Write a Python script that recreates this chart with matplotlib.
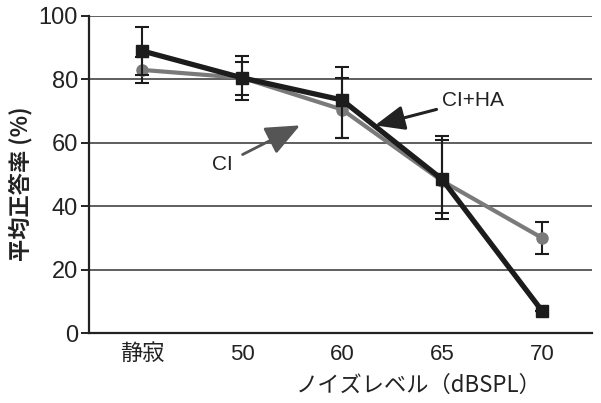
import matplotlib
matplotlib.use("Agg")
import matplotlib.pyplot as plt
from matplotlib import font_manager as fm
import numpy as np

# ---- data ----
categories = ["静寂", "50", "60", "65", "70"]
ci_mean = [83, 80.5, 70.5, 48, 30]
ci_err_low = [4, 5.5, 9, 10, 5]
ci_err_high = [4, 5, 10, 13, 5]
ciha_mean = [89, 80.5, 73.5, 48.5, 7]
ciha_err_low = [7.5, 7, 12, 12.5, 0]
ciha_err_high = [7.5, 7, 10.5, 13.5, 0]
yticks = [0, 20, 40, 60, 80, 100]

names = {f.name for f in fm.fontManager.ttflist}
num_font = "Liberation Sans Narrow" if "Liberation Sans Narrow" in names else "Liberation Sans"
jp = "Noto Sans CJK JP"

fig = plt.figure(figsize=(6.01, 4.03), dpi=100)
ax = fig.add_axes([89/601, 1-333/403, (592-89)/601, (333-16)/403])

x = np.arange(len(categories))
gray = "#7a7a7a"
dark = "#1c1c1c"

ax.errorbar(x, ci_mean, yerr=[ci_err_low, ci_err_high], color=gray, lw=3.0,
            marker="o", ms=8, mfc=gray, mec=gray, ecolor=dark, elinewidth=1.5,
            capsize=5, capthick=1.5, zorder=3)
ax.errorbar(x, ciha_mean, yerr=[ciha_err_low, ciha_err_high], color=dark, lw=3.8,
            marker="s", ms=9, mfc=dark, mec=dark, ecolor=dark, elinewidth=1.5,
            capsize=5, capthick=1.5, zorder=4)

ax.set_xlim(-0.53, 4.5)
ax.set_ylim(0, 100)
ax.set_yticks(yticks)
ax.set_xticks(x)
ax.set_xticklabels(categories)
ax.grid(axis="y", color="#333333", lw=1.1, zorder=0)
ax.set_axisbelow(True)
for s in ["top", "right"]:
    ax.spines[s].set_visible(False)
ax.spines["left"].set_linewidth(1.6)
ax.spines["bottom"].set_linewidth(1.6)
ax.spines["left"].set_color("#222222")
ax.spines["bottom"].set_color("#222222")
ax.tick_params(axis="y", length=6, width=1.4, color="#222222", pad=2)
ax.tick_params(axis="x", length=0, pad=8)

for lab in ax.get_yticklabels():
    lab.set_family([num_font, jp])
    lab.set_fontsize(17)
    lab.set_color("#222222")
for lab in ax.get_xticklabels():
    lab.set_family([num_font, jp])
    lab.set_fontsize(16)
    lab.set_color("#222222")

ax.set_ylabel("平均正答率 (%)", family=[jp, "DejaVu Sans"], fontsize=16, color="#222222",
              fontweight="bold")
ax.yaxis.set_label_coords(-0.113, 0.47)
ax.set_xlabel("ノイズレベル（dBSPL）", family=[jp, "DejaVu Sans"], fontsize=16, color="#222222")
ax.xaxis.set_label_coords(0.655, -0.128)

ax.annotate("CI+HA", xy=(2.33, 65.5), xytext=(3.0, 73.5), fontsize=15,
            family=[num_font, jp], color="#222222", va="center", ha="left",
            arrowprops=dict(arrowstyle="-|>,head_length=1.2,head_width=0.5",
                            color="#222222", lw=2.2, shrinkA=2, shrinkB=0))
ax.annotate("CI", xy=(1.58, 65.5), xytext=(0.8, 53), fontsize=15,
            family=[num_font, jp], color="#222222", va="center", ha="center",
            arrowprops=dict(arrowstyle="-|>,head_length=1.4,head_width=0.6",
                            color="#555555", lw=2.0, shrinkA=6, shrinkB=0))

fig.savefig("out.png", dpi=100)
